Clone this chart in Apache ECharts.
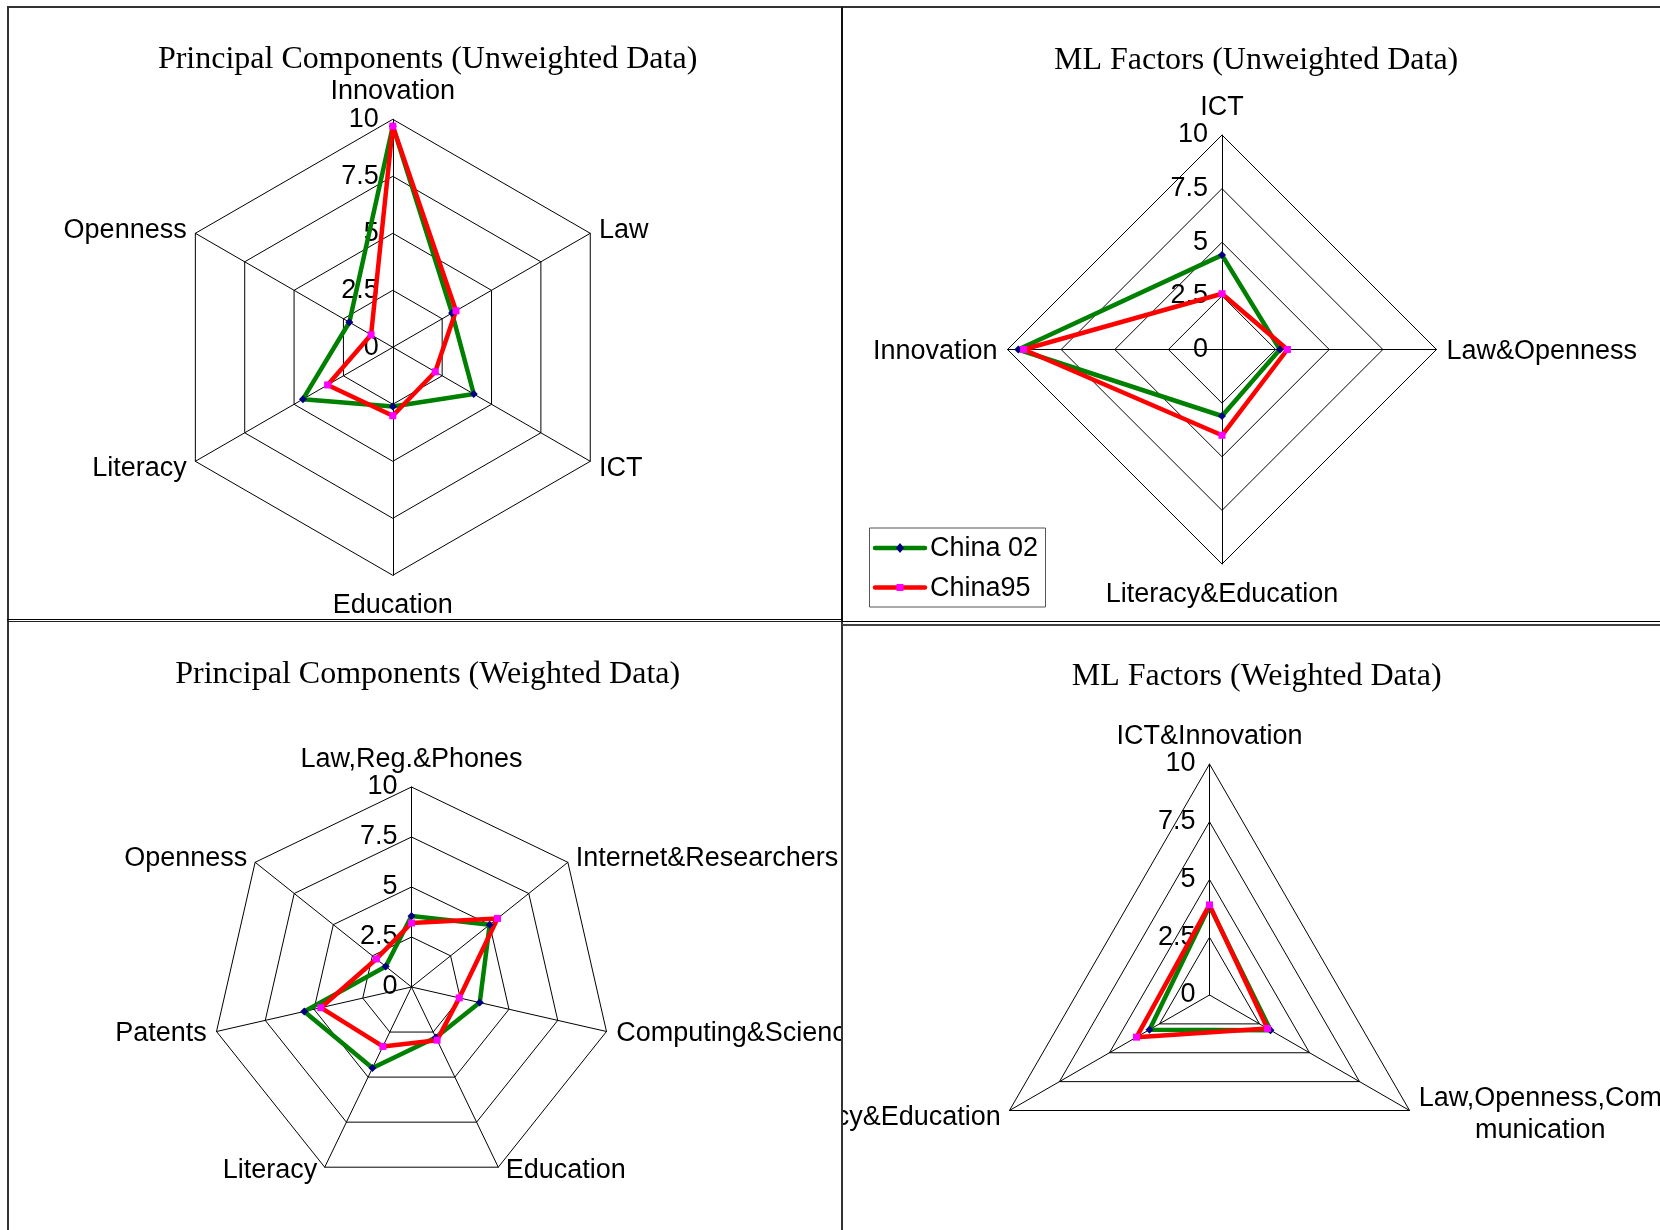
<!DOCTYPE html>
<html>
<head>
<meta charset="utf-8">
<script src="https://cdn.jsdelivr.net/npm/echarts@6/dist/echarts.min.js"></script>
<style>
  html, body { margin: 0; padding: 0; background: #fff; }
  #page { position: relative; width: 1660px; height: 1230px; overflow: hidden; background: #fff; }
  .panel { position: absolute; overflow: hidden; }
  .rule { position: absolute; }
</style>
</head>
<body>
<div id="page">
  <div class="panel" id="pcU" style="left:0;top:0;width:842px;height:620px"></div>
  <div class="panel" id="mlU" style="left:842px;top:0;width:818px;height:621px"></div>
  <div class="panel" id="pcW" style="left:0;top:620px;width:842px;height:610px"></div>
  <div class="panel" id="mlW" style="left:842px;top:621px;width:818px;height:609px"></div>

  <!-- frame lines around the four panels -->
  <div class="rule" style="left:7px;top:6px;width:1653px;height:2px;background:#333"></div>
  <div class="rule" style="left:7px;top:6px;width:2px;height:1224px;background:#333"></div>
  <div class="rule" style="left:841px;top:7px;width:2px;height:614px;background:#111"></div>
  <div class="rule" style="left:841px;top:621px;width:2px;height:609px;background:#333"></div>
  <div class="rule" style="left:7px;top:619px;width:835px;height:1px;background:#000"></div>
  <div class="rule" style="left:7px;top:621px;width:835px;height:1px;background:#222"></div>
  <div class="rule" style="left:842px;top:621px;width:818px;height:1px;background:#000"></div>
  <div class="rule" style="left:842px;top:624px;width:818px;height:2px;background:#444"></div>
</div>

<script>
const FONT_SANS = '"Liberation Sans", Arial, sans-serif';
const FONT_SERIF = '"Liberation Serif", "Times New Roman", serif';
const LABEL_SIZE = 27;

const seriesNames = ['China 02', 'China95'];
const axisMin = 0;
const axisMax = 10;
const axisSplits = 4;   // rings at 2.5, 5, 7.5, 10

// Principal components, unweighted data (axes clockwise from the top)
const pcUnweightedAxes = ['Innovation', 'Law', 'ICT', 'Education', 'Literacy', 'Openness'];
const pcUnweightedChina02 = [9.7, 3.0, 4.1, 2.6, 4.55, 2.2];
const pcUnweightedChina95 = [9.7, 3.2, 2.15, 3.0, 3.3, 1.1];

// ML factors, unweighted data
const mlUnweightedAxes = ['ICT', 'Law&Openness', 'Literacy&Education', 'Innovation'];
const mlUnweightedChina02 = [4.4, 2.7, 3.1, 9.5];
const mlUnweightedChina95 = [2.6, 3.05, 4.0, 9.25];

// Principal components, weighted data
const pcWeightedAxes = ['Law,Reg.&Phones', 'Internet&Researchers', 'Computing&Science',
                        'Education', 'Literacy', 'Patents', 'Openness'];
const pcWeightedChina02 = [3.55, 5.0, 3.5, 2.8, 4.5, 5.5, 1.65];
const pcWeightedChina95 = [3.2, 5.5, 2.45, 2.95, 3.3, 4.65, 2.25];

// ML factors, weighted data
const mlWeightedAxes = ['ICT&Innovation', 'Law,Openness,Communication', 'Literacy&Education'];
const mlWeightedChina02 = [3.85, 3.05, 3.0];
const mlWeightedChina95 = [3.9, 2.9, 3.65];

// radar indicators run counter-clockwise, so flip everything after the first axis
function ccw(arr) { return [arr[0]].concat(arr.slice(1).reverse()); }

function radarOption(p) {
  const names = ccw(p.axes);
  const n = names.length;
  const tweaks = p.nameTweaks || {};
  const indicator = names.map(function (name, i) {
    const ang = (i * 360 / n) % 360;
    let gap = 10;
    if (Math.abs(ang) < 1) gap = 14;
    else if (Math.abs(ang - 180) < 1) gap = 13;
    const ind = { name: name, min: axisMin, max: axisMax, nameGap: gap };
    if (tweaks[name]) {
      ind.nameGap = tweaks[name].gap;
      ind.nameTextStyle = { padding: tweaks[name].pad };
    }
    if (i !== 0) ind.axisLabel = { show: false };
    return ind;
  });
  const option = {
    animation: false,
    title: {
      text: p.title, left: p.titleX, top: p.titleTop, padding: 0,
      textAlign: 'center', textVerticalAlign: 'top',
      textStyle: { fontFamily: FONT_SERIF, fontSize: 32, fontWeight: 'normal', color: '#000' }
    },
    radar: {
      center: p.center, radius: p.radius, startAngle: 90, shape: 'polygon',
      splitNumber: axisSplits,
      axisName: {
        color: '#000', fontSize: LABEL_SIZE, fontFamily: FONT_SANS, padding: [4, 0, 0, 0],
        formatter: function (name) {
          if (name === 'Law,Openness,Communication') return '{w|Law,Openness,Com}\n{w|munication}';
          return name;
        },
        rich: { w: { width: 246, align: 'center', fontSize: LABEL_SIZE, fontFamily: FONT_SANS, color: '#000', lineHeight: 32 } }
      },
      axisLine: { lineStyle: { color: '#000', width: 1 } },
      splitLine: { lineStyle: { color: '#000', width: 1 } },
      splitArea: { show: false },
      axisTick: { show: false },
      axisLabel: { show: true, color: '#000', fontSize: LABEL_SIZE, fontFamily: FONT_SANS, margin: 14, padding: [3, 0, 0, 0] },
      indicator: indicator
    },
    series: [
      {
        type: 'radar', name: seriesNames[0], silent: true,
        symbol: 'diamond', symbolSize: 8,
        lineStyle: { color: '#008000', width: 4.5 },
        itemStyle: { color: '#000080' },
        data: [{ name: seriesNames[0], value: ccw(p.china02) }]
      },
      {
        type: 'radar', name: seriesNames[1], silent: true,
        symbol: 'rect', symbolSize: 7,
        lineStyle: { color: '#ff0000', width: 4.5 },
        itemStyle: { color: '#ff00ff' },
        data: [{ name: seriesNames[1], value: ccw(p.china95) }]
      }
    ]
  };
  if (p.graphic) option.graphic = p.graphic;
  return option;
}

// key for the two series, placed in the lower-left of the ML (unweighted) panel
function legendGraphic(x, y) {
  const rowY = [y + 20.5, y + 60];
  const els = [
    { type: 'rect', shape: { x: x + 0.5, y: y + 0.5, width: 176, height: 79 },
      style: { fill: '#fff', stroke: '#555', lineWidth: 1 } }
  ];
  const lineColors = ['#008000', '#ff0000'];
  rowY.forEach(function (ry, i) {
    els.push({ type: 'line', shape: { x1: x + 6, y1: ry, x2: x + 56, y2: ry },
      style: { stroke: lineColors[i], lineWidth: 4.5, lineCap: 'round' } });
    if (i === 0) {
      els.push({ type: 'polygon', shape: { points: [[x + 31, ry - 5], [x + 35, ry], [x + 31, ry + 5], [x + 27, ry]] },
        style: { fill: '#000080' } });
    } else {
      els.push({ type: 'rect', shape: { x: x + 27.5, y: ry - 3.5, width: 7, height: 7 },
        style: { fill: '#ff00ff' } });
    }
    els.push({ type: 'text', x: x + 61, y: ry + 1,
      style: { text: seriesNames[i], fill: '#000', fontSize: LABEL_SIZE, fontFamily: FONT_SANS, verticalAlign: 'middle', align: 'left' } });
  });
  return els;
}

const panels = [
  { el: 'pcU', title: 'Principal Components (Unweighted Data)', titleX: 427.6, titleTop: 43.6,
    center: [392.8, 347.3], radius: 228,
    axes: pcUnweightedAxes, china02: pcUnweightedChina02, china95: pcUnweightedChina95 },
  { el: 'mlU', title: 'ML Factors (Unweighted Data)', titleX: 414.1, titleTop: 44.7,
    center: [380, 349.5], radius: 214.5,
    axes: mlUnweightedAxes, china02: mlUnweightedChina02, china95: mlUnweightedChina95,
    graphic: legendGraphic(27, 527.5) },
  { el: 'pcW', title: 'Principal Components (Weighted Data)', titleX: 427.7, titleTop: 38.8,
    center: [411.5, 367], radius: 200,
    axes: pcWeightedAxes, china02: pcWeightedChina02, china95: pcWeightedChina95,
    nameTweaks: {
      'Education': { gap: 1, pad: [4, 7, 0, 7] },
      'Literacy': { gap: 1, pad: [4, 7, 0, 7] },
      'Computing&Science': { gap: 10, pad: [0, 0, 0, 0] },
      'Patents': { gap: 10, pad: [0, 0, 0, 0] }
    } },
  { el: 'mlW', title: 'ML Factors (Weighted Data)', titleX: 414.7, titleTop: 39.9,
    center: [367.5, 374], radius: 231,
    axes: mlWeightedAxes, china02: mlWeightedChina02, china95: mlWeightedChina95,
    nameTweaks: {
      'Law,Openness,Communication': { gap: 9, pad: [0, 0, 0, 0] }
    } }
];

panels.forEach(function (p) {
  const chart = echarts.init(document.getElementById(p.el), null, { renderer: 'canvas' });
  chart.setOption(radarOption(p));
});
</script>
</body>
</html>
